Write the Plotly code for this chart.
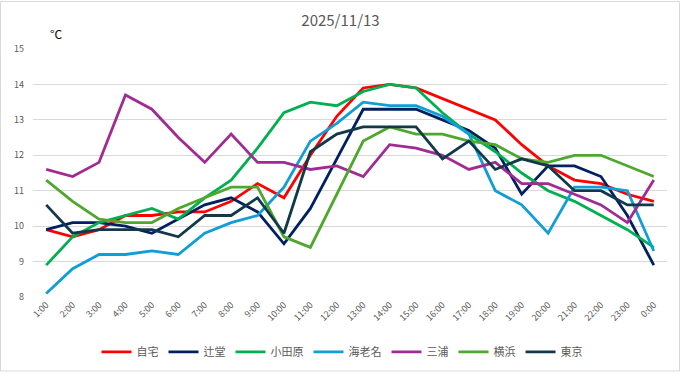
import plotly.graph_objects as go

hours = ["1:00","2:00","3:00","4:00","5:00","6:00","7:00","8:00","9:00","10:00","11:00","12:00",
         "13:00","14:00","15:00","16:00","17:00","18:00","19:00","20:00","21:00","22:00","23:00","0:00"]

jitaku   = [9.9,9.7,9.9,10.3,10.3,10.4,10.4,10.7,11.2,10.8,12.0,13.1,13.9,14.0,13.9,13.6,13.3,13.0,12.3,11.7,11.3,11.2,10.9,10.7]
tsujido  = [9.9,10.1,10.1,10.0,9.8,10.2,10.6,10.8,10.4,9.5,10.5,11.9,13.3,13.3,13.3,13.0,12.7,12.2,10.9,11.7,11.7,11.4,10.3,8.9]
odawara  = [8.9,9.7,10.1,10.3,10.5,10.2,10.8,11.3,12.2,13.2,13.5,13.4,13.8,14.0,13.9,13.2,12.6,12.1,11.5,11.0,10.7,10.3,9.9,9.4]
ebina    = [8.1,8.8,9.2,9.2,9.3,9.2,9.8,10.1,10.3,11.1,12.4,12.9,13.5,13.4,13.4,13.1,12.6,11.0,10.6,9.8,11.1,11.1,11.0,9.3]
miura    = [11.6,11.4,11.8,13.7,13.3,12.5,11.8,12.6,11.8,11.8,11.6,11.7,11.4,12.3,12.2,12.0,11.6,11.8,11.2,11.2,10.9,10.6,10.1,11.3]
yokohama = [11.3,10.7,10.2,10.1,10.1,10.5,10.8,11.1,11.1,9.7,9.4,10.9,12.4,12.8,12.6,12.6,12.4,12.3,11.9,11.8,12.0,12.0,11.7,11.4]
tokyo    = [10.6,9.8,9.9,9.9,9.9,9.7,10.3,10.3,10.8,9.8,12.1,12.6,12.8,12.8,12.8,11.9,12.4,11.6,11.9,11.7,11.0,11.0,10.6,10.6]

series_names = ["自宅","辻堂","小田原","海老名","三浦","横浜","東京"]
series_vals = [jitaku, tsujido, odawara, ebina, miura, yokohama, tokyo]
colors = ["#FF0000","#002060","#00B050","#0F9ED5","#A02B93","#4EA72E","#12394A"]

W, H = 681, 379
ML, MR, MT, MB = 33, 14, 49, 77
PW, PH = W - ML - MR, H - MT - MB

font_main = "Noto Sans CJK JP, Noto Sans, sans-serif"

fig = go.Figure()
for name, vals, c in zip(series_names, series_vals, colors):
    fig.add_trace(go.Scatter(x=hours, y=vals, name=name, mode="lines",
                             line=dict(color=c, width=2.8)))

fig.update_layout(
    width=W, height=H,
    margin=dict(l=ML, r=MR, t=MT, b=MB, pad=0),
    paper_bgcolor="white", plot_bgcolor="white",
    font=dict(family=font_main, color="#595959", size=10),
    title=dict(text="2025/11/13", x=0.5, xanchor="center", y=1 - 21 / H, yanchor="middle",
               xref="container", yref="container",
               font=dict(size=15, color="#595959", family=font_main)),
    showlegend=True,
    legend=dict(orientation="h", x=(342 - ML) / PW, xanchor="center", y=-(358 - MT - PH) / PH,
                yanchor="middle", font=dict(size=11, color="#595959"), itemwidth=30, tracegroupgap=0),
    xaxis=dict(type="category", range=[-0.5, len(hours) - 0.5], tickangle=-45, showgrid=False,
               zeroline=False, showline=False, ticks="", automargin=False,
               tickfont=dict(size=9, color="#595959")),
    yaxis=dict(range=[8, 15], dtick=1, showgrid=True, gridcolor="#D9D9D9", gridwidth=1,
               zeroline=False, showline=False, ticks="", ticklabelstandoff=8, automargin=False,
               tickfont=dict(size=9, color="#595959")),
)

fig.add_annotation(text="°C", xref="paper", yref="paper",
                   x=(56 - ML) / PW, y=1 + (MT - 33) / PH, showarrow=False,
                   xanchor="center", yanchor="middle",
                   font=dict(size=12, color="#000000", family=font_main))

fig.add_shape(type="rect", xref="paper", yref="paper",
              x0=(0.5 - ML) / PW, x1=(W - 1.5 - ML) / PW,
              y0=-(MB - 1.5) / PH, y1=1 + (MT - 0.5) / PH,
              line=dict(color="#D9D9D9", width=1), fillcolor="rgba(0,0,0,0)", layer="below")

fig.write_html("out.html", config={"displayModeBar": False},
               post_script="document.body.style.margin='0';document.body.style.overflow='hidden';")
